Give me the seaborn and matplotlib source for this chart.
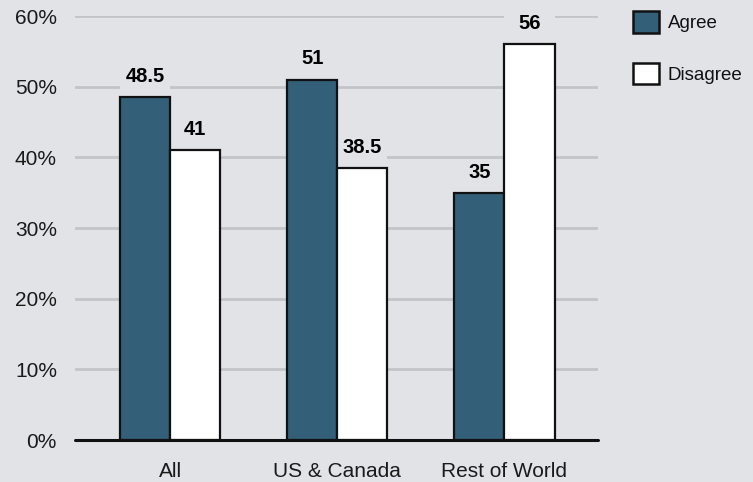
import matplotlib
matplotlib.use("Agg")
import matplotlib.pyplot as plt
from matplotlib.patches import Rectangle, Patch
import seaborn as sns
import pandas as pd

# Survey results by region (percent)
regions = ["All", "US & Canada", "Rest of World"]
agree = [48.5, 51, 35]
disagree = [41, 38.5, 56]
responses = ["Agree", "Disagree"]
y_ticks = [0, 10, 20, 30, 40, 50, 60]

BG = "#e2e3e7"
AGREE_COLOR = "#336078"
DISAGREE_COLOR = "#ffffff"
GRID_COLOR = "#c3c4c8"

df = pd.DataFrame({
    "region": regions * 2,
    "response": [responses[0]] * len(regions) + [responses[1]] * len(regions),
    "value": agree + disagree,
})

sns.set_theme(style="white")
plt.rcParams["font.family"] = ["Liberation Sans", "DejaVu Sans"]

fig = plt.figure(figsize=(7.53, 4.82), dpi=100, facecolor=BG)
ax = fig.add_axes([75 / 753, 42 / 482, 523 / 753, 424 / 482])
ax.set_facecolor(BG)

sns.barplot(
    data=df, x="region", y="value", hue="response",
    order=regions, hue_order=responses,
    palette=[AGREE_COLOR, DISAGREE_COLOR],
    width=0.6, edgecolor="#111111", linewidth=1.6,
    saturation=1, legend=False, ax=ax, zorder=3,
)

ax.set_ylim(0, 60)
ax.set_xlim(-0.57, 2.56)
ax.set_yticks(y_ticks)
ax.set_yticklabels([f"{t}%" for t in y_ticks])
ax.set_xlabel("")
ax.set_ylabel("")

# horizontal grid, without the 0% line which becomes the baseline
ax.set_axisbelow(True)
for t in y_ticks[1:]:
    ax.axhline(t, color=GRID_COLOR, lw=2, zorder=0.5)
ax.axhline(0, color="#111111", lw=2.2, zorder=4, clip_on=False)

for side in ["top", "right", "left", "bottom"]:
    ax.spines[side].set_visible(False)
ax.tick_params(axis="both", length=0, labelsize=15, colors="#1a1a1a")
ax.tick_params(axis="y", pad=13)
ax.tick_params(axis="x", pad=16)

# value labels, each sitting on a clear patch as wide as its bar
label_h = 4.0  # data units covered above each bar
for container in ax.containers:
    vals = [b.get_height() for b in container]
    ax.bar_label(container, labels=[f"{v:g}" for v in vals], padding=8,
                 fontsize=14.5, fontweight="bold", color="#000000", zorder=5)
    for b in container:
        ax.add_patch(Rectangle((b.get_x(), b.get_height()), b.get_width(), label_h,
                               facecolor=BG, edgecolor="none", zorder=0.8))

handles = [Patch(facecolor=AGREE_COLOR, edgecolor="#111111", linewidth=1.8),
           Patch(facecolor=DISAGREE_COLOR, edgecolor="#111111", linewidth=1.8)]
fig.legend(handles, responses, loc="upper left",
           bbox_to_anchor=(633 / 753, 1 - 11 / 482), frameon=False,
           fontsize=13.5, handlelength=1.4, handleheight=1.4,
           handletextpad=0.45, labelspacing=1.6, borderpad=0, borderaxespad=0,
           labelcolor="#111111")

fig.savefig("out.png", dpi=100, facecolor=BG)
